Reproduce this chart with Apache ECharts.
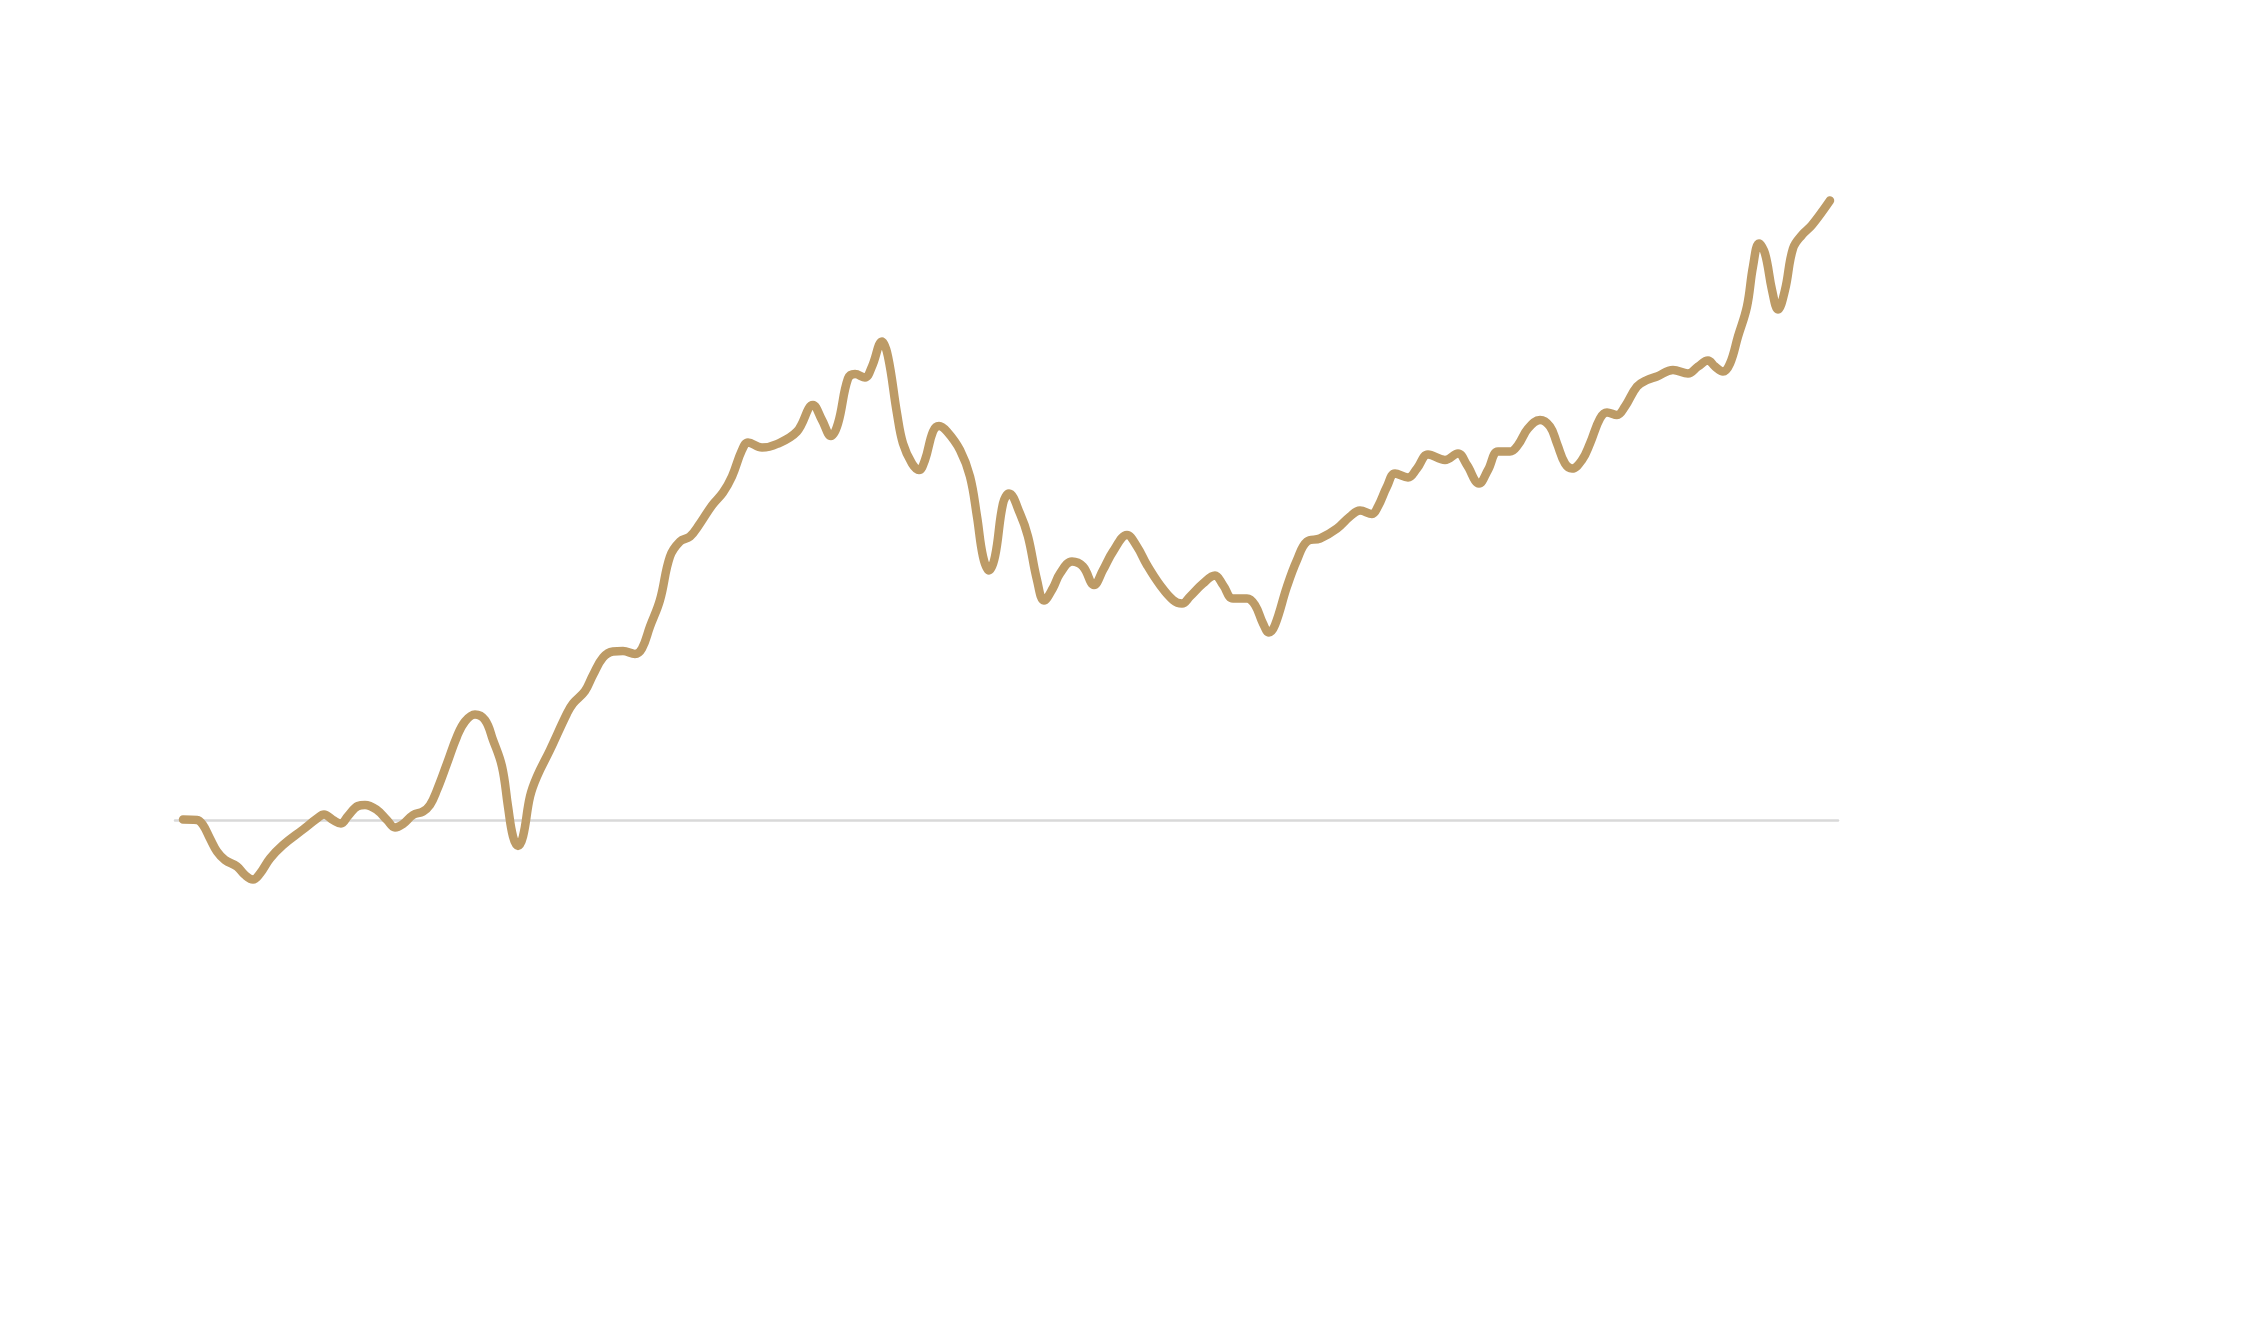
<!DOCTYPE html>
<html>
<head>
<meta charset="utf-8">
<style>
  html, body { margin: 0; padding: 0; background: #ffffff; }
  #chart { width: 2252px; height: 1337px; }
</style>
<script src="https://cdn.jsdelivr.net/npm/echarts@6/dist/echarts.min.js"></script>
</head>
<body>
<div id="chart"></div>
<script>
// Period index (x) of each observation
const periods = [
  0.8, 2.2, 2.8, 3.5, 4.2, 5.0, 6.2, 7.0, 7.8, 8.5, 9.5, 10.8, 12.8, 14.2, 14.9, 15.8, 16.6, 17.3, 18.3, 19.0,
  20.2, 21.2, 22.0, 22.8, 23.8, 24.8, 25.5, 26.2, 27.2, 28.2, 29.0, 30.0, 31.0, 31.8, 32.7, 33.3, 33.8, 34.3, 34.8, 35.5,
  36.2, 37.5, 39.2, 39.8, 41.0, 41.8, 42.8, 43.8, 44.8, 46.0, 46.7, 47.5, 48.5, 49.5, 50.5, 51.5, 52.5, 53.7, 54.8, 55.7,
  56.7, 57.3, 58.7, 60.2, 62.2, 63.8, 64.7, 65.6, 66.3, 67.3, 68.0, 69.0, 69.7, 70.7, 71.3, 72.2, 72.8, 73.7, 74.4, 75.0,
  75.8, 76.4, 77.2, 78.5, 79.5, 80.2, 80.8, 81.4, 82.0, 82.8, 83.4, 84.5, 85.3, 86.2, 86.9, 87.8, 88.5, 89.7, 90.8, 91.9,
  92.8, 93.8, 95.2, 96.2, 97.2, 98.5, 99.8, 100.7, 101.5, 102.8, 104.0, 104.8, 105.8, 107.2, 108.0, 108.8, 109.4, 110.0, 111.2, 112.2,
  113.2, 114.5, 116.2, 117.5, 118.5, 119.7, 120.3, 121.2, 122.0, 123.3, 124.2, 125.3, 127.0, 128.3, 129.2, 130.4, 131.3, 132.3, 133.5, 134.3,
  135.3, 136.5, 137.5, 138.2, 139.0, 139.7, 140.7, 141.5, 142.5, 143.2, 144.2, 145.0, 146.2, 147.2, 148.2, 149.8, 151.3, 152.3, 153.3, 154.0,
  154.8, 155.5, 156.3, 157.2, 157.8, 158.4, 159.0, 159.7, 160.3, 161.0, 161.8, 162.7, 163.7, 165.5
];

// Index value at each period
const values = [
  0.1, 0, -1, -3.7, -6.3, -8, -9.3, -11, -11.9, -10.7, -7.7, -5, -1.9, 0.3, 1.1, 0, -0.7, 0.8, 2.8, 3.0,
  2.0, 0, -1.5, -0.8, 1.0, 1.7, 3.0, 6.0, 11.3, 16.7, 19.7, 21.1, 20, 16, 10.7, 2.7, -3.3, -5.2, -3.3, 4.7,
  8.7, 14, 21.3, 23.3, 25.8, 29, 32.5, 33.7, 33.8, 33.2, 34.3, 38.7, 44, 52.7, 55.7, 56.7, 59.3, 62.9, 65.5, 68.7,
  74, 75.5, 74.5, 75.2, 77.7, 83, 80, 76.8, 79.3, 88.3, 89.2, 88.5, 90.7, 95.7, 92.7, 81.3, 75.3, 71.3, 70, 72,
  77.7, 78.8, 77.7, 74, 68.7, 60.7, 52.7, 49.9, 52.7, 63.3, 65.3, 61.3, 56.7, 48, 43.9, 46.4, 49.3, 51.7, 50.7, 47,
  50, 53.7, 57, 54.7, 51, 47, 44, 43.3, 44.7, 47.3, 48.9, 47, 44.3, 44.3, 43, 39.3, 37.5, 39, 46.7, 52,
  55.7, 56.3, 58.3, 60.7, 61.9, 61.2, 62.7, 66.7, 69.3, 68.5, 70.3, 73.1, 72, 73.3, 71, 67.3, 70, 73.7, 73.7, 75,
  78.3, 80, 78.7, 75.3, 71.3, 70.3, 72, 75.3, 80.3, 81.5, 81, 82.7, 86.7, 88, 88.7, 90, 89.3, 90.7, 91.9, 90.7,
  89.7, 91.3, 96.7, 102.7, 110.7, 115.3, 113.3, 106, 102.1, 106, 114.3, 117, 119, 123.9
];

const seriesData = periods.map((p, i) => [p, values[i]]);

const chart = echarts.init(document.getElementById('chart'), null, { renderer: 'canvas' });
chart.setOption({
  backgroundColor: '#ffffff',
  animation: false,
  grid: { left: 175, right: 414, top: 120, bottom: 317, containLabel: false },
  xAxis: {
    type: 'value',
    min: 0,
    max: 166.3,
    axisLine: { show: true, onZero: true, lineStyle: { color: '#d9d9d9', width: 2.5 } },
    axisTick: { show: false },
    axisLabel: { show: false },
    splitLine: { show: false }
  },
  yAxis: {
    type: 'value',
    min: -40,
    max: 140,
    axisLine: { show: false },
    axisTick: { show: false },
    axisLabel: { show: false },
    splitLine: { show: false }
  },
  series: [{
    type: 'line',
    data: seriesData,
    smooth: 0.4,
    showSymbol: false,
    symbol: 'none',
    clip: false,
    lineStyle: { color: '#bd9b66', width: 8.5, cap: 'round', join: 'round' }
  }]
});
</script>
</body>
</html>
